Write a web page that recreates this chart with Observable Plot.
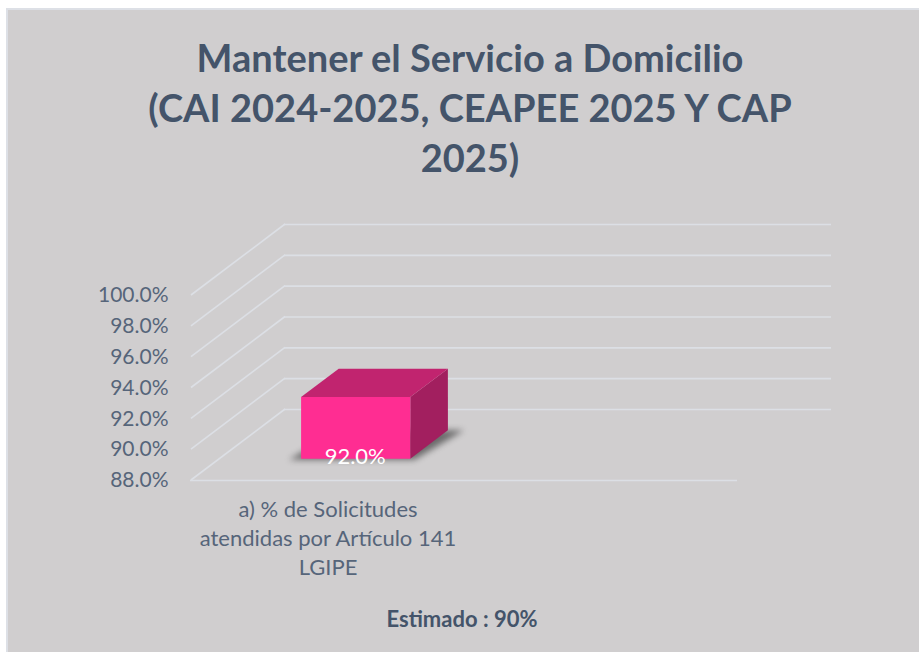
<!DOCTYPE html>
<html>
<head>
<meta charset="utf-8">
<script src="https://cdn.jsdelivr.net/npm/d3@7"></script>
<script src="https://cdn.jsdelivr.net/npm/@observablehq/plot@0.6"></script>
<style>
  html, body { margin: 0; padding: 0; background: #ffffff; width: 919px; height: 652px; overflow: hidden; font-family: Lato, sans-serif; }
  #panel { position: absolute; left: 6px; top: 8px; width: 913px; height: 644px; background: #d0cecf; border-left: 2px solid #dde0e6; border-top: 2px solid #dde0e6; box-sizing: border-box; }
  #title { position: absolute; left: 20px; width: 900px; top: 32px; text-align: center; color: #44546a; font-weight: 700; font-size: 38px; line-height: 50px; }
  #chart { position: absolute; left: 0; top: 190px; }
  #caption { position: absolute; left: 312px; width: 300px; top: 606px; text-align: center; color: #44546a; font-weight: 700; font-size: 22px; line-height: 26px; }
</style>
</head>
<body>
<div id="panel"></div>
<div id="title">Mantener el Servicio a Domicilio<br>(CAI 2024-2025, CEAPEE 2025 Y CAP<br>2025)</div>
<div id="chart"></div>
<div id="caption">Estimado : 90%</div>
<script>
// ---- data ----
const categories = ["a) % de Solicitudes\natendidas por Artículo 141\nLGIPE", ""];
const values = [92.0, null];
const yTicks = [88, 90, 92, 94, 96, 98, 100];
const yDomain = [88, 100];

const data = categories.map((c, i) => ({cat: c, value: values[i]}));

// ---- 3D styling (pixel offsets of the wall depth) ----
const DX = 94, DY = -71;
const D0 = 0.3, D1 = 0.7;      // bar depth span as fraction of wall depth
const GAP = 0.3;               // inset fraction of band on each side
const gridColor = "#dcdfe5";

const shift = (px, py, t) => [px + DX * t, py + DY * t];
const poly = pts => pts.map(p => p.join(",")).join(" ");

const sideWall = (index, scales) => {
  const g = d3.create("svg:g");
  const x0 = scales.x(categories[0]);
  for (const t of yTicks) {
    const y = scales.y(t);
    const [x2, y2] = shift(x0, y, 1);
    g.append("line").attr("x1", x0).attr("y1", y).attr("x2", x2).attr("y2", y2)
      .attr("stroke", gridColor).attr("stroke-width", 1.6);
  }
  return g.node();
};

const bar3d = (index, scales) => {
  const g = d3.create("svg:g");
  const bw = scales.x.bandwidth();
  for (const i of index) {
    const d = data[i];
    if (d.value == null) continue;
    const xs = scales.x(d.cat);
    const x0 = xs + bw * GAP, x1 = xs + bw * (1 - GAP);
    const yb = scales.y(yDomain[0]), yt = scales.y(d.value);
    // shadow
    g.append("polygon")
      .attr("points", poly([shift(x0 - 12, yb + 1, D0), shift(x1 + 4, yb + 1, D0), shift(x1 + 16, yb, D1), shift(x0, yb, D1)]))
      .attr("fill", "#4a4a4a").attr("opacity", 0.75).style("filter", "blur(3px)");
    // side face
    g.append("polygon")
      .attr("points", poly([shift(x1, yt, D0), shift(x1, yt, D1), shift(x1, yb, D1), shift(x1, yb, D0)]))
      .attr("fill", "#a21f5f");
    // top face
    g.append("polygon")
      .attr("points", poly([shift(x0, yt, D0), shift(x1, yt, D0), shift(x1, yt, D1), shift(x0, yt, D1)]))
      .attr("fill", "#c1246f");
    // front face
    g.append("polygon")
      .attr("points", poly([shift(x0, yt, D0), shift(x1, yt, D0), shift(x1, yb, D0), shift(x0, yb, D0)]))
      .attr("fill", "#ff2d92");
  }
  return g.node();
};

const chart = Plot.plot({
  width: 919,
  height: 462,
  marginLeft: 190,
  marginRight: 182,
  marginTop: 105,
  marginBottom: 172,
  style: { fontFamily: "Lato, sans-serif", background: "none", overflow: "visible" },
  x: { type: "band", domain: categories, padding: 0 },
  y: { domain: yDomain },
  marks: [
    // back wall gridlines
    Plot.ruleY(yTicks, { dx: DX, dy: DY, stroke: gridColor, strokeWidth: 1.6 }),
    // left wall diagonals
    Plot.ruleY(yTicks, { render: sideWall }),
    // floor front edge
    Plot.ruleY([yDomain[0]], { stroke: gridColor, strokeWidth: 1.6 }),
    // 3D bar
    Plot.barY(data, { x: "cat", y1: yDomain[0], y2: "value", render: bar3d }),
    // data label
    Plot.text(data.filter(d => d.value != null), {
      x: "cat", y: yDomain[0], text: d => d.value.toFixed(1) + "%",
      dx: DX * D0 - 1, dy: DY * D0 + 5, lineAnchor: "bottom", fill: "#ffffff", fontSize: 22
    }),
    Plot.axisY(yTicks, { tickSize: 0, tickPadding: 22, fontSize: 21, color: "#56657a", tickFormat: d => d.toFixed(1) + "%" , label: null}),
    Plot.axisX({ tickSize: 0, tickPadding: 16, fontSize: 22, lineHeight: 1.32, color: "#56657a", label: null })
  ]
});
document.getElementById("chart").appendChild(chart);
</script>
</body>
</html>
